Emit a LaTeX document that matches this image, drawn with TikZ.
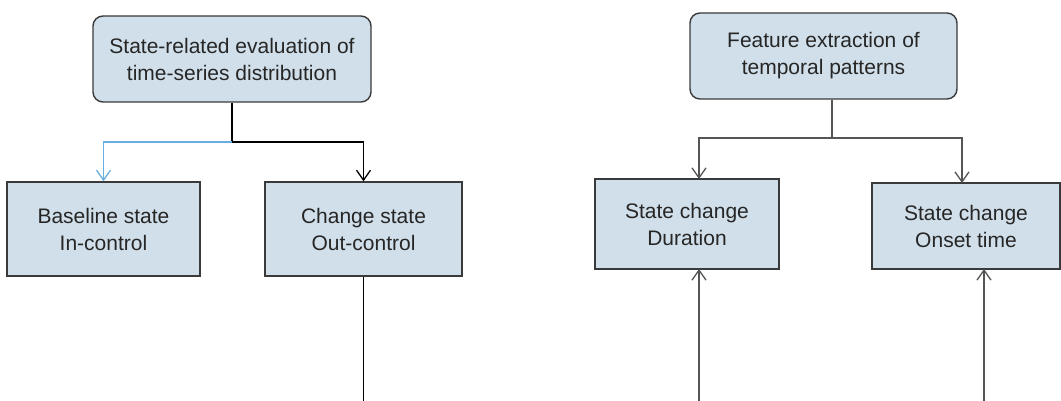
\documentclass[tikz,border=0pt]{standalone}
\usepackage{fontspec}
\setmainfont{Liberation Sans}
\usetikzlibrary{arrows.meta}
\definecolor{boxfill}{HTML}{D0DFE9}
\definecolor{boxline}{HTML}{3A3A3A}
\definecolor{txt}{HTML}{262626}
\definecolor{blueline}{HTML}{6AAEE0}
\definecolor{grayline}{HTML}{555555}
\tikzset{
  box/.style={draw=boxline, line width=1.4pt, fill=boxfill, text=txt, align=center,
    inner sep=0pt, font=\fontsize{21}{27}\selectfont},
  rbox/.style={box, rounded corners=10pt},
  conn/.style={line width=1.3pt, draw=black},
  tip/.style={-{Straight Barb[length=10pt,width=14pt]}}
}
\begin{document}
\begin{tikzpicture}[x=1pt,y=-1pt]
\useasboundingbox (0,0) rectangle (1061,401);
% left group
\node[rbox, minimum width=278pt, minimum height=86pt] (tl) at (232,59)
  {State-related evaluation of\\time-series distribution};
\node[box, minimum width=193pt, minimum height=94pt] (base) at (103.5,229)
  {Baseline state\\In-control};
\node[box, minimum width=197pt, minimum height=94pt] (chg) at (363.5,229)
  {Change state\\Out-control};
\coordinate (j1) at (232,142);
\coordinate (chgend) at (363.5,401);
\draw[conn] (tl.south) -- (j1);
\draw[conn, tip] (j1) -| (chg.north);
\draw[conn, draw=blueline, tip] (j1) -| (base.north);
\draw[conn] (chg.south) -- (chgend);
% right group
\node[rbox, minimum width=267pt, minimum height=86pt] (tr) at (823.5,56)
  {Feature extraction of\\temporal patterns};
\node[box, minimum width=184pt, minimum height=90pt] (dur) at (687,224)
  {State change\\Duration};
\node[box, minimum width=188pt, minimum height=86pt] (ons) at (966,226)
  {State change\\Onset time};
\coordinate (j2) at (832,138);
\coordinate (dtop) at (699,179);
\coordinate (otop) at (962,183);
\coordinate (dbot) at (699,269);
\coordinate (obot) at (984,269);
\coordinate (dstart) at (699,401);
\coordinate (ostart) at (984,401);
\draw[conn, draw=grayline] (tr.south -| j2) -- (j2);
\draw[conn, draw=grayline, tip] (j2) -| (dtop);
\draw[conn, draw=grayline, tip] (j2) -| (otop);
\draw[conn, draw=grayline, tip] (dstart) -- (dbot);
\draw[conn, draw=grayline, tip] (ostart) -- (obot);
\end{tikzpicture}
\end{document}
